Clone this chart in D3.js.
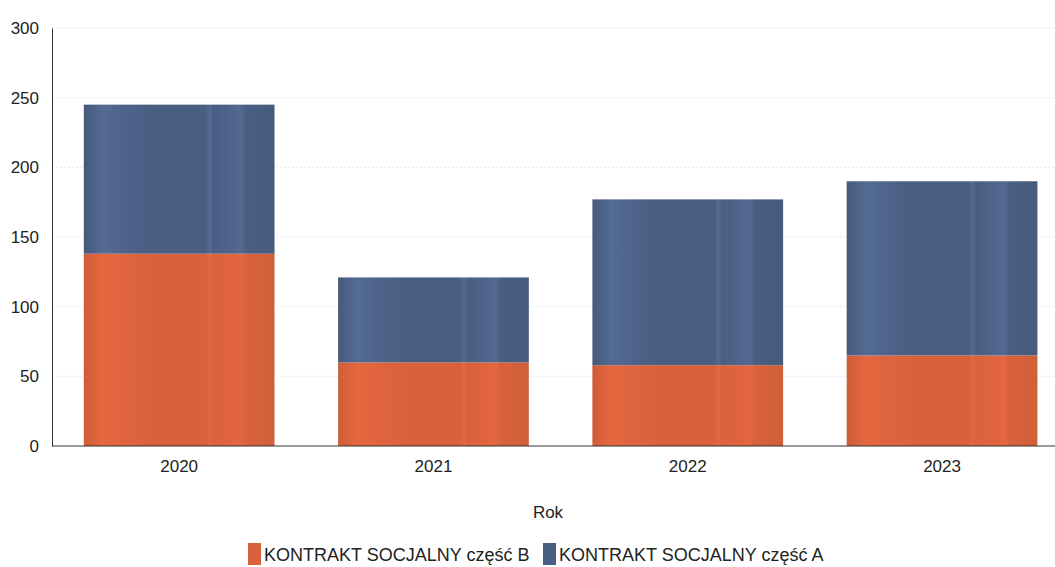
<!DOCTYPE html>
<html>
<head>
<meta charset="utf-8">
<script src="https://cdn.jsdelivr.net/npm/d3@7"></script>
<style>
  body { margin: 0; background: #fff; }
  text { font-family: "Liberation Sans Narrow", "Arial Narrow", "Liberation Sans", sans-serif; fill: #222; }
</style>
</head>
<body>
<div id="chart"></div>
<script>
var years = ["2020", "2021", "2022", "2023"];
var partB = [138, 60, 58, 65];
var partA = [107, 61, 119, 125];
var seriesNames = ["KONTRAKT SOCJALNY część B", "KONTRAKT SOCJALNY część A"];
var yTicks = [0, 50, 100, 150, 200, 250, 300];

var svg = d3.select("#chart").append("svg").attr("width", 1055).attr("height", 567),
  margin = {top: 28, left: 52, bottom: 121},
  height = 567 - margin.top - margin.bottom;

var colors = {B: "#d9623c", A: "#4a5e82"};

// faint vertical streaks like the scanned gradient bars
var defs = svg.append("defs");
function makeGrad(id, base, k) {
  var c = d3.color(base);
  var g = defs.append("linearGradient").attr("id", id).attr("x1", "0%").attr("x2", "100%");
  var stops = [[0, c.darker(0.15)], [0.1, c.brighter(0.3 * k)], [0.2, c.brighter(0.15 * k)], [0.35, c], [0.64, c],
    [0.66, c.brighter(0.3 * k)], [0.68, c], [0.83, c.brighter(0.25 * k)], [0.85, c], [1, c.darker(0.1)]];
  stops.forEach(function (s) {
    g.append("stop").attr("offset", (s[0] * 100) + "%").attr("stop-color", s[1].formatHex());
  });
}
makeGrad("gradB", colors.B, 0.5);
makeGrad("gradA", colors.A, 1.2);

var x = d3.scaleBand().domain(years).range([margin.left, margin.left + 4 * 254.3]).paddingInner(0.25).paddingOuter(0.125);
var y = d3.scaleLinear().domain([0, 300]).range([margin.top + height, margin.top]);

// gridlines
svg.append("g").selectAll("line")
  .data(yTicks.slice(1))
  .enter().append("line")
  .attr("x1", margin.left).attr("x2", 1055)
  .attr("y1", function (d) { return y(d); }).attr("y2", function (d) { return y(d); })
  .attr("stroke", "#e3e8ee").attr("stroke-dasharray", "2,2");

var data = years.map(function (yr, i) {
  return {year: yr, B: partB[i], A: partA[i]};
});
var stacked = d3.stack().keys(["B", "A"])(data);

svg.append("g").selectAll("g")
  .data(stacked)
  .enter().append("g")
  .attr("fill", function (d) { return "url(#grad" + d.key + ")"; })
  .selectAll("rect")
  .data(function (d) { return d; })
  .enter().append("rect")
  .attr("x", function (d) { return x(d.data.year); })
  .attr("y", function (d) { return y(d[1]); })
  .attr("width", x.bandwidth())
  .attr("height", function (d) { return y(d[0]) - y(d[1]); });

// axes
var yAxis = svg.append("g")
  .attr("transform", "translate(" + margin.left + ",0)")
  .call(d3.axisLeft(y).tickValues(yTicks).tickSize(0).tickPadding(13));
yAxis.select(".domain").attr("stroke", "#333");
yAxis.selectAll("text").style("font-size", "17px").attr("fill", "#222");

var xAxis = svg.append("g")
  .attr("transform", "translate(0," + (margin.top + height) + ")")
  .call(d3.axisBottom(x).tickSize(0).tickPadding(14));
xAxis.select(".domain").attr("d", "M" + margin.left + ",0H1055").attr("stroke", "#333");
xAxis.selectAll("text").style("font-size", "17px").attr("fill", "#222");

svg.append("text")
  .attr("x", 548).attr("y", 518)
  .style("text-anchor", "middle")
  .style("font-size", "17px")
  .text("Rok");

// legend
var legend = svg.append("g").attr("transform", "translate(248,543)");
var legendX = [0, 295];
seriesNames.forEach(function (name, i) {
  var g = legend.append("g").attr("transform", "translate(" + legendX[i] + ",0)");
  g.append("rect").attr("width", 13).attr("height", 22)
    .attr("fill", i === 0 ? colors.B : colors.A);
  g.append("text").attr("x", 16).attr("y", 18)
    .style("font-size", "18px")
    .text(name);
});
</script>
</body>
</html>
